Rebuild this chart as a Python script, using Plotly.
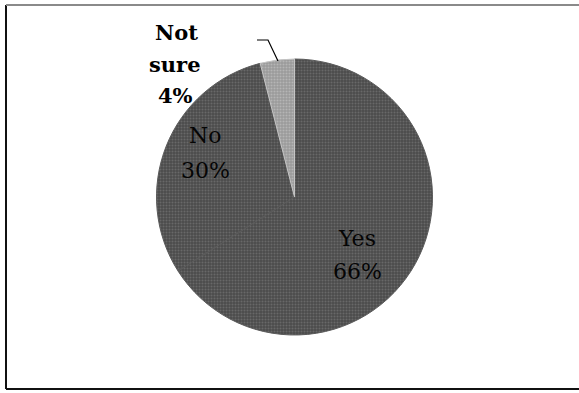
import plotly.graph_objects as go

# Survey answers and their shares (percent)
labels = ["Yes", "No", "Not sure"]
values = [66, 30, 4]
base_colors = ["#4b4b4b", "#4b4b4b", "#9a9a9a"]
dot_colors = ["#858585", "#858585", "#d0d0d0"]
edge_colors = ["#5a5a5a", "#5a5a5a", "#c4c4c4"]

W, H = 579, 393
cx, cy, r = 294.5, 197, 138  # pie centre and radius in pixels


def px(x):
    return x / W


def py(y):
    return 1 - y / H


fig = go.Figure(
    go.Pie(
        labels=labels,
        values=values,
        sort=False,
        direction="clockwise",
        rotation=0,
        textinfo="none",
        hoverinfo="label+percent",
        marker=dict(
            colors=base_colors,
            line=dict(width=1, color=edge_colors),
            pattern=dict(
                shape=[".", ".", "."],
                fgcolor=dot_colors,
                bgcolor=base_colors,
                size=3,
                solidity=0.35,
                fillmode="overlay",
            ),
        ),
        domain=dict(x=[px(cx - r), px(cx + r)], y=[py(cy + r), py(cy - r)]),
        showlegend=False,
    )
)

serif = "DejaVu Serif"
pct = [f"{v}%" for v in values]

annotations = []
# Inside labels for the two large slices
inner = {0: (357, 238, 271), 1: (205, 135, 170)}
for i, (x, y1, y2) in inner.items():
    annotations.append(dict(x=px(x), y=py(y1), text=labels[i], showarrow=False,
                            xanchor="center", yanchor="middle",
                            font=dict(family=serif, size=22, color="#050505")))
    annotations.append(dict(x=px(x), y=py(y2), text=pct[i], showarrow=False,
                            xanchor="center", yanchor="middle",
                            font=dict(family=serif, size=22, color="#050505")))

# Outside label for the small slice, one word per line
outer_lines = labels[2].split() + [pct[2]]
for line, (x, y) in zip(outer_lines, [(176, 32), (175, 64), (175, 96)]):
    annotations.append(dict(x=px(x), y=py(y), text=f"<b>{line}</b>", showarrow=False,
                            xanchor="center", yanchor="middle",
                            font=dict(family=serif, size=21, color="#000000")))

shapes = [
    # leader line to the "Not sure" slice
    dict(type="path", xref="paper", yref="paper",
         path=f"M {px(257)} {py(40)} L {px(268)} {py(40)} L {px(278)} {py(61)}",
         line=dict(color="#000000", width=1.2)),
    # chart frame
    dict(type="line", xref="paper", yref="paper", x0=px(6), x1=px(6), y0=py(5), y1=py(389),
         line=dict(color="#111111", width=2)),
    dict(type="line", xref="paper", yref="paper", x0=px(6), x1=1.0, y0=py(389), y1=py(389),
         line=dict(color="#111111", width=2)),
    dict(type="line", xref="paper", yref="paper", x0=px(6), x1=1.0, y0=py(5), y1=py(5),
         line=dict(color="#8a8a8a", width=2)),
]

fig.update_layout(
    width=W,
    height=H,
    margin=dict(l=0, r=0, t=0, b=0),
    paper_bgcolor="white",
    plot_bgcolor="white",
    annotations=annotations,
    shapes=shapes,
)

fig.write_html("out.html")
